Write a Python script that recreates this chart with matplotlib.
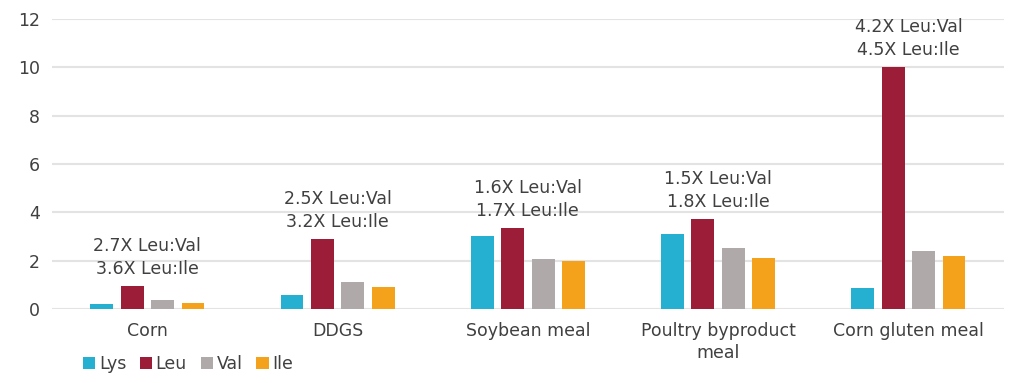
import numpy as np
import matplotlib.pyplot as plt

categories = ["Corn", "DDGS", "Soybean meal", "Poultry byproduct\nmeal", "Corn gluten meal"]
lys = [0.2, 0.6, 3.02, 3.09, 0.86]
leu = [0.95, 2.88, 3.34, 3.71, 10.0]
val = [0.37, 1.13, 2.07, 2.51, 2.41]
ile = [0.25, 0.9, 2.0, 2.1, 2.2]
ratio_labels = [
    "2.7X Leu:Val\n3.6X Leu:Ile",
    "2.5X Leu:Val\n3.2X Leu:Ile",
    "1.6X Leu:Val\n1.7X Leu:Ile",
    "1.5X Leu:Val\n1.8X Leu:Ile",
    "4.2X Leu:Val\n4.5X Leu:Ile",
]
yticks = [0, 2, 4, 6, 8, 10, 12]

series = [("Lys", lys, "#25AFD0"), ("Leu", leu, "#9B1D38"),
          ("Val", val, "#AFAAA9"), ("Ile", ile, "#F4A11C")]

textColor = "#404040"
plt.rcParams['font.family'] = ['DejaVu Sans']

fig = plt.figure(figsize=(10.24, 3.83), dpi=100)
ax = fig.add_axes([0.051, 0.193, 0.929, 0.757])

x = np.arange(len(categories))
step = 0.16
width = 0.12
for i, (name, vals, color) in enumerate(series):
    ax.bar(x + (i - 1.5) * step, vals, width, color=color, label=name, zorder=3)

for xi, top, txt in zip(x, leu, ratio_labels):
    ax.annotate(txt, (xi, top), xytext=(0, 6), textcoords='offset points',
                ha='center', va='bottom', fontsize=12.5, color=textColor,
                linespacing=1.35)

ax.set_xlim(-0.5, len(categories) - 0.5)
ax.set_ylim(0, 12)
ax.set_yticks(yticks)
ax.set_xticks(x)
ax.set_xticklabels(categories, fontsize=12.5, color=textColor, linespacing=1.3)
ax.tick_params(axis='both', length=0, labelsize=12.5, labelcolor=textColor)
ax.tick_params(axis='y', pad=9)
ax.tick_params(axis='x', pad=9)
ax.grid(axis='y', color="#E3E3E3", linewidth=1.5, zorder=0)
for s in ax.spines.values():
    s.set_visible(False)

fig.legend(loc='lower left', bbox_to_anchor=(0.066, -0.015), ncol=4, frameon=False,
           fontsize=12.5, handlelength=0.7, handleheight=0.7, handletextpad=0.2,
           columnspacing=0.8, labelcolor=textColor)

fig.savefig("out.png", dpi=100)
